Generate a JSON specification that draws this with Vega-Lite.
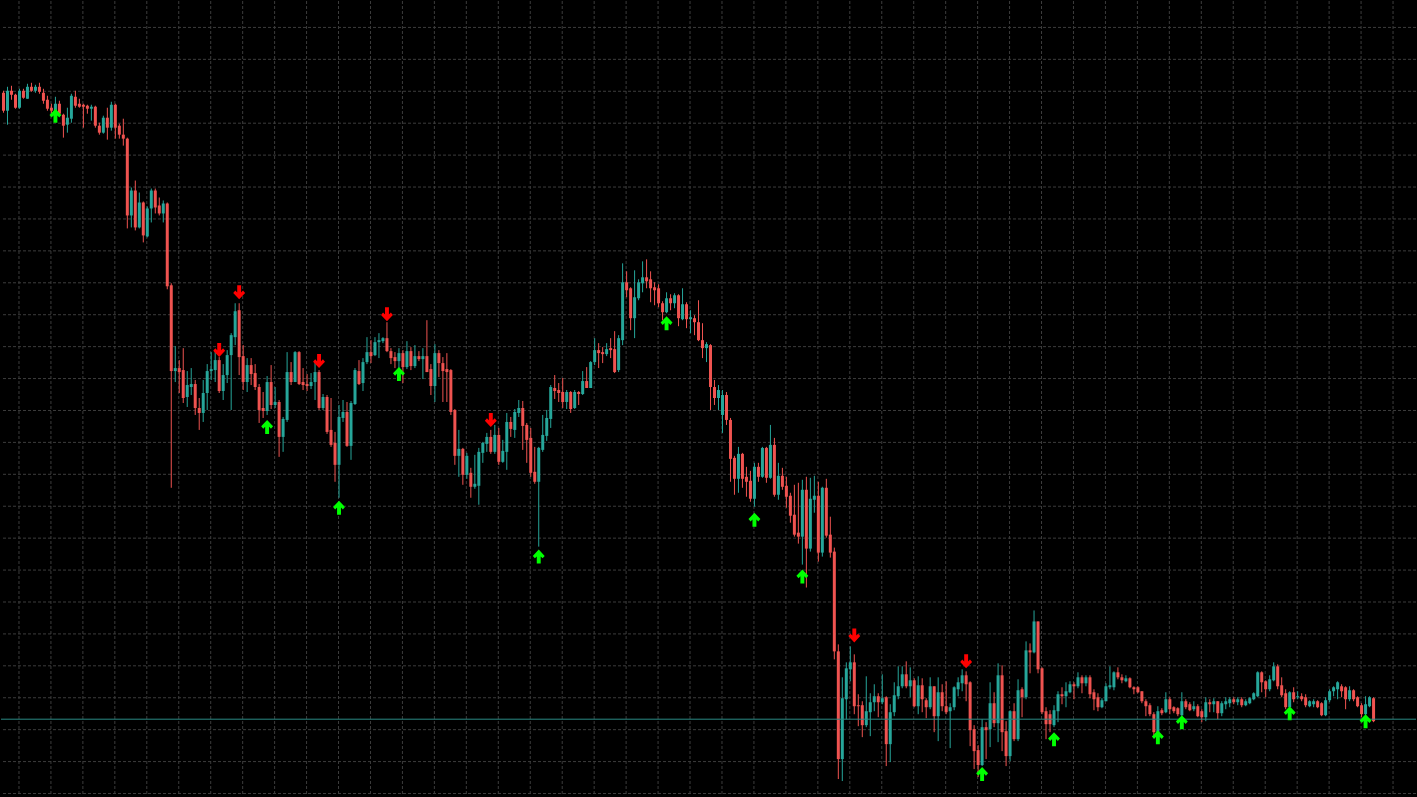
{
"$schema": "https://vega.github.io/schema/vega-lite/v6.json",
"width": 1417, "height": 797,
"autosize": {"type": "fit", "contains": "padding"},
"padding": 0,
"background": "#000000",
"config": {"view": {"stroke": null}},
"datasets": {
"candles": [
{"i":0,"o":708,"h":710,"l":688,"c":690},{"i":1,"o":690,"h":714,"l":676,"c":710},{"i":2,"o":710,"h":715,"l":701,"c":706},{"i":3,"o":706,"h":707,"l":692,"c":693},{"i":4,"o":693,"h":712,"l":692,"c":710},{"i":5,"o":710,"h":712,"l":702,"c":703},{"i":6,"o":702,"h":717,"l":702,"c":714},{"i":7,"o":714,"h":718,"l":709,"c":710},{"i":8,"o":710,"h":716,"l":708,"c":714},{"i":9,"o":714,"h":718,"l":707,"c":709},
{"i":10,"o":708,"h":712,"l":697,"c":700},{"i":11,"o":701,"h":705,"l":690,"c":692},{"i":12,"o":693,"h":697,"l":687,"c":690},{"i":13,"o":688,"h":704,"l":685,"c":697},{"i":14,"o":697,"h":700,"l":685,"c":687},{"i":15,"o":686,"h":687,"l":663,"c":675},{"i":16,"o":676,"h":693,"l":668,"c":683},{"i":17,"o":682,"h":707,"l":678,"c":705},{"i":18,"o":704,"h":710,"l":693,"c":695},{"i":19,"o":697,"h":702,"l":693,"c":694},
{"i":20,"o":696,"h":697,"l":673,"c":694},{"i":21,"o":695,"h":696,"l":687,"c":692},{"i":22,"o":692,"h":696,"l":680,"c":694},{"i":23,"o":694,"h":695,"l":673,"c":675},{"i":24,"o":675,"h":678,"l":666,"c":668},{"i":25,"o":668,"h":685,"l":667,"c":683},{"i":26,"o":683,"h":693,"l":661,"c":673},{"i":27,"o":673,"h":699,"l":670,"c":696},{"i":28,"o":696,"h":697,"l":662,"c":673},{"i":29,"o":675,"h":677,"l":662,"c":666},
{"i":30,"o":666,"h":682,"l":655,"c":662},{"i":31,"o":662,"h":663,"l":572,"c":585},{"i":32,"o":585,"h":613,"l":573,"c":610},{"i":33,"o":610,"h":620,"l":570,"c":573},{"i":34,"o":573,"h":608,"l":572,"c":598},{"i":35,"o":598,"h":599,"l":558,"c":565},{"i":36,"o":564,"h":594,"l":563,"c":592},{"i":37,"o":592,"h":612,"l":578,"c":610},{"i":38,"o":610,"h":612,"l":587,"c":593},{"i":39,"o":595,"h":603,"l":585,"c":587},
{"i":40,"o":587,"h":600,"l":578,"c":597},{"i":41,"o":597,"h":598,"l":511,"c":514},{"i":42,"o":515,"h":517,"l":312,"c":429},{"i":43,"o":429,"h":454,"l":418,"c":432},{"i":44,"o":432,"h":440,"l":407,"c":428},{"i":45,"o":430,"h":452,"l":397,"c":402},{"i":46,"o":403,"h":429,"l":393,"c":415},{"i":47,"o":413,"h":432,"l":405,"c":416},{"i":48,"o":416,"h":420,"l":385,"c":392},{"i":49,"o":392,"h":402,"l":370,"c":387},
{"i":50,"o":387,"h":420,"l":378,"c":407},{"i":51,"o":407,"h":436,"l":390,"c":429},{"i":52,"o":429,"h":448,"l":420,"c":431},{"i":53,"o":430,"h":450,"l":418,"c":440},{"i":54,"o":440,"h":443,"l":407,"c":409},{"i":55,"o":409,"h":436,"l":400,"c":425},{"i":56,"o":425,"h":450,"l":417,"c":445},{"i":57,"o":445,"h":467,"l":390,"c":465},{"i":58,"o":463,"h":497,"l":455,"c":489},{"i":59,"o":490,"h":497,"l":425,"c":443},
{"i":60,"o":444,"h":455,"l":410,"c":418},{"i":61,"o":418,"h":442,"l":408,"c":435},{"i":62,"o":435,"h":442,"l":415,"c":426},{"i":63,"o":427,"h":436,"l":410,"c":413},{"i":64,"o":413,"h":416,"l":377,"c":390},{"i":65,"o":392,"h":408,"l":382,"c":389},{"i":66,"o":389,"h":424,"l":385,"c":418},{"i":67,"o":418,"h":435,"l":391,"c":395},{"i":68,"o":395,"h":413,"l":392,"c":398},{"i":69,"o":398,"h":400,"l":343,"c":363},
{"i":70,"o":363,"h":383,"l":348,"c":381},{"i":71,"o":380,"h":448,"l":378,"c":428},{"i":72,"o":428,"h":438,"l":415,"c":418},{"i":73,"o":418,"h":449,"l":418,"c":448},{"i":74,"o":448,"h":449,"l":415,"c":416},{"i":75,"o":418,"h":432,"l":410,"c":415},{"i":76,"o":416,"h":426,"l":409,"c":414},{"i":77,"o":414,"h":427,"l":411,"c":418},{"i":78,"o":418,"h":438,"l":400,"c":428},{"i":79,"o":428,"h":430,"l":390,"c":392},
{"i":80,"o":392,"h":406,"l":390,"c":403},{"i":81,"o":403,"h":405,"l":366,"c":368},{"i":82,"o":370,"h":402,"l":353,"c":355},{"i":83,"o":357,"h":368,"l":318,"c":335},{"i":84,"o":335,"h":395,"l":302,"c":383},{"i":85,"o":382,"h":400,"l":378,"c":388},{"i":86,"o":388,"h":398,"l":353,"c":354},{"i":87,"o":354,"h":399,"l":340,"c":397},{"i":88,"o":396,"h":432,"l":395,"c":430},{"i":89,"o":429,"h":440,"l":415,"c":416},
{"i":90,"o":417,"h":442,"l":409,"c":438},{"i":91,"o":438,"h":463,"l":436,"c":448},{"i":92,"o":448,"h":460,"l":437,"c":444},{"i":93,"o":445,"h":463,"l":444,"c":458},{"i":94,"o":458,"h":467,"l":442,"c":460},{"i":95,"o":459,"h":463,"l":457,"c":462},{"i":96,"o":462,"h":478,"l":448,"c":449},{"i":97,"o":449,"h":452,"l":436,"c":442},{"i":98,"o":443,"h":448,"l":432,"c":439},{"i":99,"o":439,"h":452,"l":430,"c":447},
{"i":100,"o":447,"h":450,"l":417,"c":433},{"i":101,"o":433,"h":459,"l":431,"c":449},{"i":102,"o":449,"h":453,"l":430,"c":434},{"i":103,"o":434,"h":455,"l":432,"c":444},{"i":104,"o":444,"h":449,"l":439,"c":441},{"i":105,"o":441,"h":452,"l":421,"c":444},{"i":106,"o":444,"h":480,"l":428,"c":428},{"i":107,"o":431,"h":436,"l":405,"c":414},{"i":108,"o":414,"h":456,"l":398,"c":447},{"i":109,"o":447,"h":450,"l":423,"c":437},
{"i":110,"o":437,"h":443,"l":398,"c":429},{"i":111,"o":431,"h":447,"l":398,"c":428},{"i":112,"o":430,"h":431,"l":385,"c":388},{"i":113,"o":390,"h":391,"l":335,"c":344},{"i":114,"o":344,"h":370,"l":323,"c":351},{"i":115,"o":351,"h":352,"l":315,"c":325},{"i":116,"o":325,"h":347,"l":321,"c":344},{"i":117,"o":327,"h":332,"l":302,"c":313},{"i":118,"o":313,"h":345,"l":311,"c":316},{"i":119,"o":314,"h":352,"l":295,"c":348},
{"i":120,"o":347,"h":358,"l":337,"c":357},{"i":121,"o":356,"h":367,"l":348,"c":363},{"i":122,"o":363,"h":370,"l":346,"c":348},{"i":123,"o":348,"h":375,"l":346,"c":365},{"i":124,"o":365,"h":372,"l":335,"c":338},{"i":125,"o":338,"h":360,"l":337,"c":349},{"i":126,"o":348,"h":387,"l":330,"c":378},{"i":127,"o":378,"h":383,"l":363,"c":371},{"i":128,"o":370,"h":391,"l":362,"c":388},{"i":129,"o":387,"h":400,"l":383,"c":392},
{"i":130,"o":392,"h":399,"l":350,"c":374},{"i":131,"o":375,"h":377,"l":337,"c":360},{"i":132,"o":362,"h":372,"l":323,"c":327},{"i":133,"o":328,"h":353,"l":316,"c":318},{"i":134,"o":318,"h":353,"l":253,"c":352},{"i":135,"o":350,"h":385,"l":348,"c":365},{"i":136,"o":364,"h":390,"l":359,"c":382},{"i":137,"o":381,"h":415,"l":372,"c":413},{"i":138,"o":412,"h":425,"l":401,"c":409},{"i":139,"o":410,"h":417,"l":398,"c":407},
{"i":140,"o":408,"h":422,"l":392,"c":398},{"i":141,"o":398,"h":410,"l":391,"c":408},{"i":142,"o":408,"h":409,"l":387,"c":391},{"i":143,"o":392,"h":410,"l":391,"c":408},{"i":144,"o":408,"h":409,"l":395,"c":406},{"i":145,"o":406,"h":429,"l":405,"c":419},{"i":146,"o":419,"h":433,"l":412,"c":412},{"i":147,"o":412,"h":439,"l":412,"c":438},{"i":148,"o":438,"h":462,"l":435,"c":450},{"i":149,"o":450,"h":457,"l":432,"c":447},
{"i":150,"o":448,"h":453,"l":437,"c":446},{"i":151,"o":446,"h":457,"l":444,"c":451},{"i":152,"o":452,"h":462,"l":442,"c":450},{"i":153,"o":451,"h":469,"l":427,"c":428},{"i":154,"o":430,"h":465,"l":428,"c":462},{"i":155,"o":460,"h":537,"l":455,"c":518},{"i":156,"o":518,"h":529,"l":503,"c":510},{"i":157,"o":512,"h":513,"l":470,"c":482},{"i":158,"o":482,"h":530,"l":462,"c":503},{"i":159,"o":502,"h":521,"l":500,"c":518},
{"i":160,"o":517,"h":539,"l":508,"c":523},{"i":161,"o":523,"h":541,"l":512,"c":519},{"i":162,"o":521,"h":529,"l":498,"c":512},{"i":163,"o":513,"h":518,"l":495,"c":510},{"i":164,"o":512,"h":516,"l":493,"c":497},{"i":165,"o":497,"h":499,"l":480,"c":488},{"i":166,"o":488,"h":508,"l":487,"c":502},{"i":167,"o":502,"h":506,"l":490,"c":497},{"i":168,"o":497,"h":507,"l":492,"c":505},{"i":169,"o":505,"h":506,"l":474,"c":482},
{"i":170,"o":481,"h":512,"l":480,"c":496},{"i":171,"o":496,"h":498,"l":472,"c":481},{"i":172,"o":481,"h":490,"l":467,"c":483},{"i":173,"o":482,"h":485,"l":465,"c":478},{"i":174,"o":478,"h":500,"l":459,"c":460},{"i":175,"o":460,"h":477,"l":442,"c":452},{"i":176,"o":452,"h":458,"l":438,"c":456},{"i":177,"o":455,"h":456,"l":390,"c":413},{"i":178,"o":413,"h":420,"l":395,"c":402},{"i":179,"o":402,"h":415,"l":390,"c":410},
{"i":180,"o":385,"h":410,"l":367,"c":405},{"i":181,"o":405,"h":408,"l":375,"c":380},{"i":182,"o":380,"h":382,"l":318,"c":341},{"i":183,"o":342,"h":344,"l":305,"c":321},{"i":184,"o":321,"h":353,"l":307,"c":346},{"i":185,"o":346,"h":347,"l":312,"c":321},{"i":186,"o":323,"h":333,"l":303,"c":318},{"i":187,"o":319,"h":329,"l":298,"c":301},{"i":188,"o":301,"h":337,"l":293,"c":333},{"i":189,"o":333,"h":337,"l":318,"c":323},
{"i":190,"o":323,"h":353,"l":322,"c":352},{"i":191,"o":352,"h":353,"l":317,"c":322},{"i":192,"o":322,"h":375,"l":321,"c":355},{"i":193,"o":355,"h":362,"l":303,"c":305},{"i":194,"o":305,"h":337,"l":300,"c":324},{"i":195,"o":324,"h":332,"l":310,"c":313},{"i":196,"o":314,"h":323,"l":292,"c":303},{"i":197,"o":304,"h":307,"l":277,"c":284},{"i":198,"o":285,"h":315,"l":263,"c":265},{"i":199,"o":267,"h":317,"l":256,"c":263},
{"i":200,"o":263,"h":320,"l":235,"c":310},{"i":201,"o":310,"h":323,"l":212,"c":251},{"i":202,"o":251,"h":322,"l":248,"c":301},{"i":203,"o":300,"h":324,"l":287,"c":304},{"i":204,"o":304,"h":318,"l":238,"c":247},{"i":205,"o":247,"h":313,"l":243,"c":312},{"i":206,"o":312,"h":321,"l":262,"c":264},{"i":207,"o":265,"h":283,"l":242,"c":247},{"i":208,"o":248,"h":252,"l":140,"c":148},{"i":209,"o":148,"h":155,"l":20,"c":40},
{"i":210,"o":40,"h":122,"l":18,"c":101},{"i":211,"o":100,"h":137,"l":80,"c":131},{"i":212,"o":130,"h":153,"l":118,"c":137},{"i":213,"o":137,"h":145,"l":85,"c":93},{"i":214,"o":94,"h":105,"l":73,"c":93},{"i":215,"o":94,"h":98,"l":62,"c":74},{"i":216,"o":74,"h":123,"l":72,"c":88},{"i":217,"o":87,"h":106,"l":63,"c":97},{"i":218,"o":97,"h":115,"l":88,"c":103},{"i":219,"o":103,"h":106,"l":82,"c":97},
{"i":220,"o":97,"h":125,"l":95,"c":101},{"i":221,"o":102,"h":103,"l":33,"c":55},{"i":222,"o":55,"h":95,"l":37,"c":87},{"i":223,"o":87,"h":117,"l":83,"c":104},{"i":224,"o":103,"h":133,"l":100,"c":113},{"i":225,"o":113,"h":133,"l":111,"c":125},{"i":226,"o":125,"h":138,"l":111,"c":113},{"i":227,"o":113,"h":132,"l":102,"c":119},{"i":228,"o":119,"h":121,"l":92,"c":93},{"i":229,"o":93,"h":123,"l":85,"c":114},
{"i":230,"o":114,"h":121,"l":87,"c":100},{"i":231,"o":99,"h":101,"l":81,"c":92},{"i":232,"o":92,"h":122,"l":90,"c":113},{"i":233,"o":113,"h":113,"l":67,"c":83},{"i":234,"o":83,"h":122,"l":58,"c":107},{"i":235,"o":107,"h":115,"l":88,"c":93},{"i":236,"o":93,"h":118,"l":85,"c":87},{"i":237,"o":88,"h":96,"l":51,"c":92},{"i":238,"o":92,"h":113,"l":89,"c":112},{"i":239,"o":110,"h":122,"l":103,"c":117},
{"i":240,"o":116,"h":130,"l":108,"c":124},{"i":241,"o":124,"h":128,"l":98,"c":115},{"i":242,"o":117,"h":118,"l":53,"c":69},{"i":243,"o":70,"h":74,"l":30,"c":48},{"i":244,"o":49,"h":54,"l":22,"c":34},{"i":245,"o":34,"h":80,"l":33,"c":72},{"i":246,"o":72,"h":77,"l":40,"c":69},{"i":247,"o":70,"h":117,"l":52,"c":96},{"i":248,"o":96,"h":107,"l":72,"c":76},{"i":249,"o":76,"h":136,"l":57,"c":124},
{"i":250,"o":124,"h":134,"l":48,"c":67},{"i":251,"o":68,"h":78,"l":33,"c":43},{"i":252,"o":43,"h":89,"l":38,"c":88},{"i":253,"o":88,"h":96,"l":58,"c":60},{"i":254,"o":60,"h":120,"l":58,"c":109},{"i":255,"o":110,"h":112,"l":82,"c":102},{"i":256,"o":102,"h":158,"l":100,"c":149},{"i":257,"o":149,"h":156,"l":126,"c":147},{"i":258,"o":147,"h":189,"l":146,"c":178},{"i":259,"o":178,"h":178,"l":126,"c":130},
{"i":260,"o":131,"h":132,"l":85,"c":87},{"i":261,"o":88,"h":92,"l":60,"c":75},{"i":262,"o":85,"h":89,"l":67,"c":75},{"i":263,"o":74,"h":94,"l":72,"c":89},{"i":264,"o":88,"h":108,"l":77,"c":105},{"i":265,"o":105,"h":112,"l":95,"c":103},{"i":266,"o":103,"h":117,"l":92,"c":108},{"i":267,"o":107,"h":118,"l":106,"c":115},{"i":268,"o":115,"h":117,"l":100,"c":113},{"i":269,"o":113,"h":127,"l":111,"c":122},
{"i":270,"o":122,"h":124,"l":106,"c":116},{"i":271,"o":116,"h":124,"l":113,"c":122},{"i":272,"o":122,"h":124,"l":101,"c":105},{"i":273,"o":107,"h":110,"l":89,"c":100},{"i":274,"o":102,"h":106,"l":88,"c":92},{"i":275,"o":92,"h":101,"l":91,"c":99},{"i":276,"o":98,"h":116,"l":98,"c":113},{"i":277,"o":112,"h":133,"l":110,"c":114},{"i":278,"o":112,"h":128,"l":109,"c":127},{"i":279,"o":127,"h":132,"l":120,"c":122},
{"i":280,"o":122,"h":125,"l":116,"c":119},{"i":281,"o":118,"h":124,"l":117,"c":121},{"i":282,"o":121,"h":122,"l":111,"c":112},{"i":283,"o":112,"h":113,"l":105,"c":110},{"i":284,"o":112,"h":113,"l":106,"c":107},{"i":285,"o":108,"h":108,"l":96,"c":98},{"i":286,"o":98,"h":100,"l":83,"c":93},{"i":287,"o":94,"h":96,"l":83,"c":85},{"i":288,"o":85,"h":87,"l":63,"c":67},{"i":289,"o":67,"h":93,"l":66,"c":88},
{"i":290,"o":89,"h":91,"l":84,"c":86},{"i":291,"o":87,"h":107,"l":86,"c":100},{"i":292,"o":100,"h":102,"l":85,"c":90},{"i":293,"o":92,"h":93,"l":86,"c":88},{"i":294,"o":91,"h":92,"l":83,"c":85},{"i":295,"o":84,"h":107,"l":82,"c":98},{"i":296,"o":98,"h":100,"l":90,"c":92},{"i":297,"o":95,"h":97,"l":88,"c":89},{"i":298,"o":90,"h":98,"l":88,"c":93},{"i":299,"o":93,"h":95,"l":82,"c":83},
{"i":300,"o":88,"h":90,"l":77,"c":82},{"i":301,"o":82,"h":102,"l":78,"c":97},{"i":302,"o":97,"h":100,"l":87,"c":95},{"i":303,"o":95,"h":101,"l":87,"c":98},{"i":304,"o":98,"h":98,"l":80,"c":86},{"i":305,"o":86,"h":98,"l":83,"c":96},{"i":306,"o":95,"h":102,"l":90,"c":98},{"i":307,"o":96,"h":102,"l":92,"c":100},{"i":308,"o":100,"h":102,"l":95,"c":97},{"i":309,"o":97,"h":102,"l":94,"c":100},
{"i":310,"o":100,"h":102,"l":92,"c":94},{"i":311,"o":94,"h":100,"l":93,"c":98},{"i":312,"o":96,"h":102,"l":95,"c":101},{"i":313,"o":100,"h":107,"l":99,"c":106},{"i":314,"o":103,"h":128,"l":102,"c":127},{"i":315,"o":127,"h":128,"l":107,"c":117},{"i":316,"o":118,"h":119,"l":102,"c":110},{"i":317,"o":110,"h":124,"l":108,"c":120},{"i":318,"o":119,"h":137,"l":118,"c":133},{"i":319,"o":133,"h":135,"l":110,"c":113},
{"i":320,"o":114,"h":122,"l":102,"c":104},{"i":321,"o":106,"h":110,"l":90,"c":92},{"i":322,"o":92,"h":108,"l":90,"c":107},{"i":323,"o":107,"h":112,"l":97,"c":100},{"i":324,"o":102,"h":108,"l":100,"c":103},{"i":325,"o":103,"h":106,"l":98,"c":100},{"i":326,"o":102,"h":105,"l":92,"c":94},{"i":327,"o":93,"h":99,"l":92,"c":98},{"i":328,"o":95,"h":100,"l":92,"c":98},{"i":329,"o":98,"h":99,"l":91,"c":92},
{"i":330,"o":96,"h":97,"l":83,"c":84},{"i":331,"o":84,"h":102,"l":83,"c":99},{"i":332,"o":99,"h":110,"l":97,"c":108},{"i":333,"o":108,"h":113,"l":103,"c":112},{"i":334,"o":110,"h":118,"l":100,"c":117},{"i":335,"o":113,"h":115,"l":102,"c":108},{"i":336,"o":112,"h":113,"l":90,"c":100},{"i":337,"o":100,"h":113,"l":98,"c":109},{"i":338,"o":109,"h":110,"l":98,"c":100},{"i":339,"o":102,"h":103,"l":92,"c":93},
{"i":340,"o":94,"h":96,"l":82,"c":85},{"i":341,"o":85,"h":103,"l":78,"c":95},{"i":342,"o":93,"h":103,"l":92,"c":102},{"i":343,"o":101,"h":102,"l":77,"c":78}
],
"signals": [
{"i":13,"p":685,"t":"up"},{"i":66,"p":373,"t":"up"},{"i":84,"p":292,"t":"up"},{"i":99,"p":426,"t":"up"},{"i":134,"p":243,"t":"up"},{"i":166,"p":477,"t":"up"},{"i":188,"p":280,"t":"up"},{"i":200,"p":223,"t":"up"},{"i":245,"p":25,"t":"up"},{"i":263,"p":60,"t":"up"},{"i":289,"p":62,"t":"up"},{"i":295,"p":77,"t":"up"},{"i":322,"p":86,"t":"up"},{"i":341,"p":78,"t":"up"},
{"i":54,"p":450,"t":"down"},{"i":59,"p":508,"t":"down"},{"i":79,"p":439,"t":"down"},{"i":96,"p":486,"t":"down"},{"i":122,"p":380,"t":"down"},{"i":213,"p":164,"t":"down"},{"i":241,"p":138,"t":"down"}
],
"gridx": [{"g":3.875},{"g":11.875},{"g":19.875},{"g":27.875},{"g":35.875},{"g":43.875},{"g":51.875},{"g":59.875},{"g":67.875},{"g":75.875},{"g":83.875},{"g":91.875},{"g":99.875},{"g":107.875},{"g":115.875},{"g":123.875},{"g":131.875},{"g":139.875},{"g":147.875},{"g":155.875},{"g":163.875},{"g":171.875},{"g":179.875},{"g":187.875},{"g":195.875},{"g":203.875},{"g":211.875},{"g":219.875},{"g":227.875},{"g":235.875},{"g":243.875},{"g":251.875},{"g":259.875},{"g":267.875},{"g":275.875},{"g":283.875},{"g":291.875},{"g":299.875},{"g":307.875},{"g":315.875},{"g":323.875},{"g":331.875},{"g":339.875},{"g":347.875}],
"gridy": [{"g":773.5},{"g":741.5},{"g":709.5},{"g":677.5},{"g":645.5},{"g":613.5},{"g":581.5},{"g":549.5},{"g":517.5},{"g":485.5},{"g":453.5},{"g":421.5},{"g":389.5},{"g":357.5},{"g":325.5},{"g":293.5},{"g":261.5},{"g":229.5},{"g":197.5},{"g":165.5},{"g":133.5},{"g":101.5},{"g":69.5},{"g":37.5},{"g":5.5}],
"level": [{"p": 80}]
},
"layer": [
{
"data": {"name": "gridx"},
"mark": {"type": "rule", "strokeWidth": 1, "color": "#3c3c3c", "strokeDash": [3, 2]},
"encoding": {
"x": {"field": "g", "type": "quantitative", "axis": null, "scale": {"domain": [-0.625, 353.625], "nice": false, "zero": false, "padding": 0}}
}
},
{
"data": {"name": "gridy"},
"mark": {"type": "rule", "strokeWidth": 1, "color": "#3c3c3c", "strokeDash": [3, 2]},
"encoding": {
"y": {"field": "g", "type": "quantitative", "axis": null, "scale": {"domain": [3, 800], "nice": false, "zero": false, "padding": 0}}
}
},
{
"data": {"name": "candles"},
"mark": {"type": "rule", "strokeWidth": 1},
"encoding": {
"x": {"field": "i", "type": "quantitative", "axis": null},
"y": {"field": "l", "type": "quantitative", "axis": null},
"y2": {"field": "h"},
"color": {"condition": {"test": "datum.c >= datum.o", "value": "#26a69a"}, "value": "#ef5350"}
}
},
{
"data": {"name": "candles"},
"mark": {"type": "bar", "width": 3},
"encoding": {
"x": {"field": "i", "type": "quantitative", "axis": null},
"y": {"field": "o", "type": "quantitative", "axis": null},
"y2": {"field": "c"},
"color": {"condition": {"test": "datum.c >= datum.o", "value": "#26a69a"}, "value": "#ef5350"}
}
},
{
"data": {"name": "level"},
"mark": {"type": "rule", "strokeWidth": 1, "color": "#2a8a85"},
"encoding": {"y": {"field": "p", "type": "quantitative", "axis": null}}
},
{
"data": {"name": "signals"},
"transform": [{"filter": {"field": "t", "equal": "up"}}],
"mark": {"type": "point", "shape": "M0,-1L0.85,-0.1L0.55,0.25L0.28,-0.03L0.28,1L-0.28,1L-0.28,-0.03L-0.55,0.25L-0.85,-0.1Z", "filled": true, "size": 196, "color": "#00ff00", "opacity": 1, "strokeWidth": 0},
"encoding": {
"x": {"field": "i", "type": "quantitative", "axis": null},
"y": {"field": "p", "type": "quantitative", "axis": null}
}
},
{
"data": {"name": "signals"},
"transform": [{"filter": {"field": "t", "equal": "down"}}],
"mark": {"type": "point", "shape": "M0,1L0.85,0.1L0.55,-0.25L0.28,0.03L0.28,-1L-0.28,-1L-0.28,0.03L-0.55,-0.25L-0.85,0.1Z", "filled": true, "size": 196, "color": "#ff0000", "opacity": 1, "strokeWidth": 0},
"encoding": {
"x": {"field": "i", "type": "quantitative", "axis": null},
"y": {"field": "p", "type": "quantitative", "axis": null}
}
}
]
}
